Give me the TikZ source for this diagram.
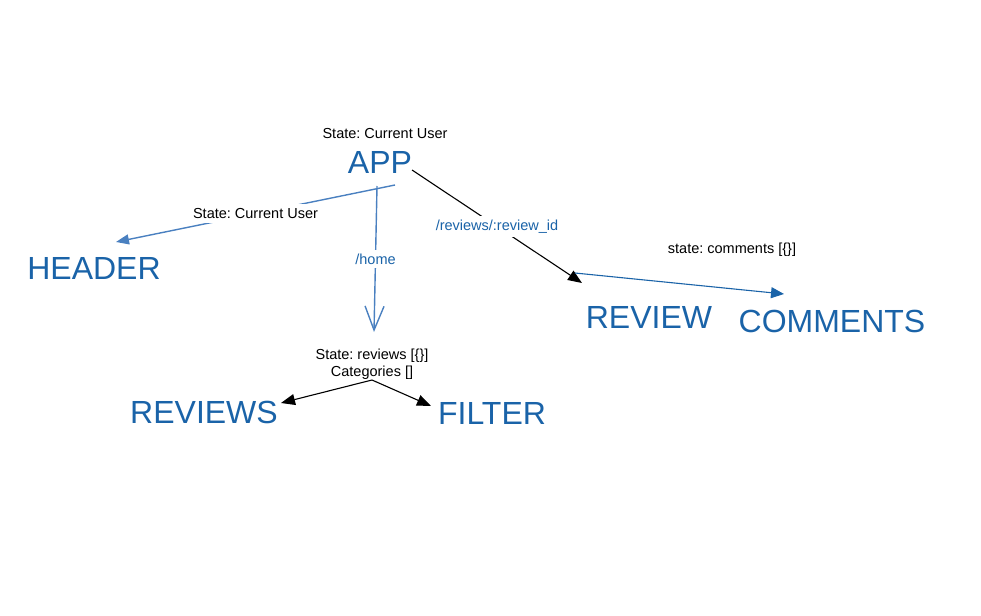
\documentclass[tikz,border=0pt]{standalone}
\usepackage{fontspec}
\setmainfont{Liberation Sans}
\usetikzlibrary{arrows.meta}
\definecolor{tblue}{RGB}{26,99,168}
\definecolor{lblue}{RGB}{74,128,192}
\frenchspacing
\begin{document}
\begin{tikzpicture}[x=1pt,y=-1pt,
  big/.style={text=tblue,font=\fontsize{32}{36}\selectfont,inner sep=0pt},
  small/.style={font=\fontsize{14.5}{17}\selectfont,inner sep=1pt},
  lbl/.style={small,fill=white,inner sep=4pt},
  bline/.style={draw=lblue,line width=1.4pt},
  kline/.style={draw=black,line width=1.1pt},
  ktip/.style={-{Triangle[length=14pt,width=11pt]}},
  btip/.style={-{Triangle[length=13pt,width=10pt]}}]
\useasboundingbox (0,0) rectangle (981,615);
% nodes
\node[small] (appstate) at (385,134) {State: Current User};
\node[big] (app) at (380,162) {APP};
\node[big] (header) at (94,268) {HEADER};
\node[small,align=center] (revstate) at (372,364) {State: reviews [\{\}]\\Categories []};
\node[big] (reviews) at (204,412) {REVIEWS};
\node[big] (filter) at (492,413) {FILTER};
\node[big] (review) at (649,317) {REVIEW};
\node[big] (comments) at (832,321) {COMMENTS};
\node[small] (comstate) at (732,250) {state: comments [\{\}]};
% coordinates
\coordinate (a1) at (395,185);
\coordinate (h1) at (116,242);
\coordinate (a2) at (377,186);
\coordinate (r1) at (374,332);
\coordinate (a3) at (412,170);
\coordinate (rv1) at (582,283);
\coordinate (rv2) at (575,273);
\coordinate (c1) at (784,294);
\coordinate (s1) at (372,380);
\coordinate (rs1) at (281,403);
\coordinate (f1) at (431,406);
% connectors
\draw[bline,btip,draw=lblue] (a1) -- node[lbl,text=black] (hlab) {State: Current User} (h1);
\draw[bline,-{Straight Barb[length=24pt,width=19pt,line width=1.4pt]}] (a2) -- node[lbl,text=tblue] (homelab) {/home} (r1);
\draw[kline,ktip] (a3) -- node[lbl,text=tblue] (rlab) {/reviews/:review\_id} (rv1);
\draw[line width=1.1pt,draw=tblue,-{Triangle[length=13pt,width=11pt]},tblue] (rv2) -- (c1);
\draw[kline,ktip] (s1) -- (rs1);
\draw[kline,ktip] (s1) -- (f1);
\end{tikzpicture}
\end{document}
